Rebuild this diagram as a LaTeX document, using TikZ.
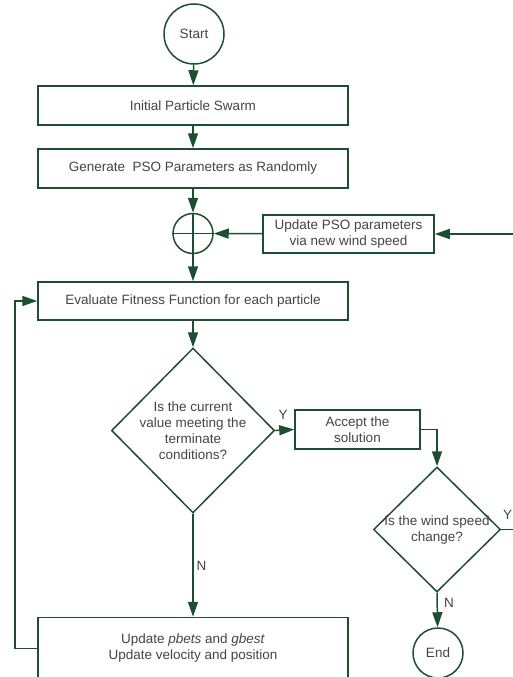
\documentclass[tikz,border=0pt]{standalone}
\usepackage{fontspec}
\setmainfont{Liberation Sans}
\usetikzlibrary{arrows.meta,shapes.geometric}
\definecolor{flowgreen}{RGB}{30,78,50}
\definecolor{flowtext}{RGB}{68,68,68}

\begin{document}
\begin{tikzpicture}[x=1pt, y=-1pt,
	flowline/.style={line width=1.5pt, color=flowgreen},
	flowarrow/.style={flowline, -{Triangle[length=15pt,width=10pt]}},
	flowfont/.style={text=flowtext, font=\fontsize{13.5}{16}\selectfont, align=center},
	flowbox/.style={flowfont, draw=flowgreen, line width=1.5pt, rectangle, inner sep=0pt},
	flowround/.style={flowfont, draw=flowgreen, line width=1.5pt, circle, inner sep=0pt},
	flowdiamond/.style={draw=flowgreen, line width=1.5pt, diamond, inner sep=0pt},
	flowlabel/.style={flowfont, inner sep=0pt}]
			%%%%% START %%%%%
			
			\useasboundingbox (0, 0) rectangle (512, 677);
			
			\node[flowround, minimum size=60] (start) at (194, 34) {Start};
			\node[flowbox, minimum width=310, minimum height=39] (swarm) at (193, 105.5) {Initial Particle Swarm};
			\node[flowbox, minimum width=310, minimum height=39] (generate) at (193, 168.5) {Generate\ \ PSO Parameters as Randomly};
			
			\node[flowround, minimum size=40] (sum) at (193, 233.5) {};
			\draw[flowline] (sum.north) -- (sum.south);
			\draw[flowline] (sum.west) -- (sum.east);
			
			\node[flowbox, minimum width=171, minimum height=38] (update) at (348.5, 234) {Update PSO parameters\\via new wind speed};
			\node[flowbox, minimum width=310, minimum height=38] (evaluate) at (193, 301) {Evaluate Fitness Function for each particle};
			
			\node[flowdiamond, minimum width=163, minimum height=165] (check) at (193, 430.5) {};
			\node[flowlabel] (checktext) at (193, 431) {Is the current\\value meeting the\\terminate\\conditions?};
			
			\node[flowbox, minimum width=125, minimum height=39] (accept) at (357.5, 429.5) {Accept the\\solution};
			
			\node[flowdiamond, minimum width=127, minimum height=125] (wind) at (437, 529.5) {};
			\node[flowlabel] (windtext) at (437, 530) {Is the wind speed\\change?};
			
			\node[flowround, minimum size=50] (end) at (438, 653) {End};
			\node[flowbox, minimum width=310, minimum height=62] (best) at (193, 648.5) {Update \textit{pbets} and \textit{gbest}\\Update velocity and position};
			
			\coordinate (acceptturn) at (wind.north |- accept.east);
			\coordinate (loopbottom) at (15, 648.5);
			\coordinate (looptop) at (15, 301);
			\coordinate (windright) at (514, 529.5);
			\coordinate (windtop) at (514, 234);
			
			\draw[flowarrow] (start) -- (swarm);
			\draw[flowarrow] (swarm) -- (generate);
			\draw[flowarrow] (generate) -- (sum);
			\draw[flowarrow] (sum) -- (evaluate);
			\draw[flowarrow] (update) -- (sum);
			\draw[flowarrow] (evaluate) -- (check.north);
			\draw[flowarrow] (check.east) -- (accept.west);
			\draw[flowarrow] (accept.east) -- (acceptturn) -- (wind.north);
			\draw[flowarrow] (wind.south) -- (end);
			\draw[flowarrow] (check.south) -- (best);
			\draw[flowarrow] (best.west) -- (loopbottom) -- (looptop) -- (evaluate.west);
			\draw[flowarrow] (wind.east) -- (windright) -- (windtop) -- (update.east);
			
			\node[flowlabel] (checkyes) at (283, 415) {Y};
			\node[flowlabel] (checkno) at (201.5, 566) {N};
			\node[flowlabel] (windyes) at (507.5, 515) {Y};
			\node[flowlabel] (windno) at (449, 603) {N};
			
			%%%%% END %%%%%
		\end{tikzpicture}
\end{document}
